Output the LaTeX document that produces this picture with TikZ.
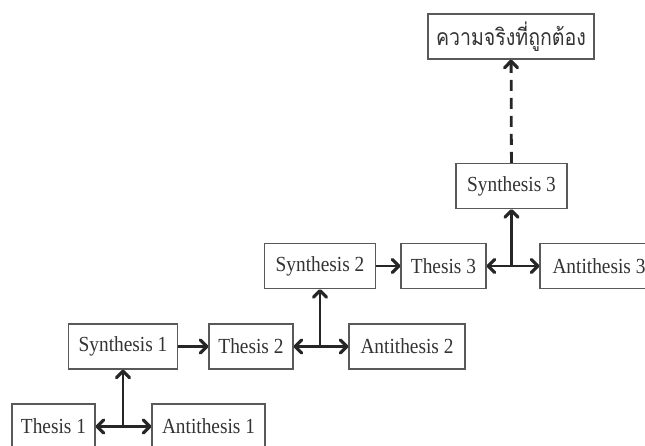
\documentclass[tikz,border=0pt]{standalone}
\usepackage{fontspec}
\setmainfont[FakeStretch=0.9]{Liberation Serif}
\newfontfamily\thaifont[Script=Thai,FakeStretch=0.85]{Loma}
\usetikzlibrary{arrows.meta}
\begin{document}
\begin{tikzpicture}[x=1pt,y=-1pt,
  box/.style={draw=black!65,line width=1.1pt,fill=white,minimum height=45pt,inner sep=2pt,text=black!80,font=\fontsize{21.5}{25}\selectfont},
  arr/.style={draw=black!85,line width=2.8pt,-{Straight Barb[length=6.5pt,width=13pt,line width=3.2pt,round]}},
  darr/.style={arr,dash pattern=on 11pt off 7pt}]
\useasboundingbox (0,0) rectangle (645,445);
\node[box,minimum width=83pt]  (t1) at (53.5,426.5) {Thesis 1};
\node[box,minimum width=113pt] (a1) at (208.5,426.5) {Antithesis 1};
\node[box,minimum width=109pt] (s1) at (123,346.5) {Synthesis 1};
\node[box,minimum width=84pt]  (t2) at (251,346.5) {Thesis 2};
\node[box,minimum width=116pt] (a2) at (407,346.5) {Antithesis 2};
\node[box,minimum width=111pt] (s2) at (320,266) {Synthesis 2};
\node[box,minimum width=85pt]  (t3) at (443.5,266) {Thesis 3};
\node[box,minimum width=118pt] (a3) at (599,266) {Antithesis 3};
\node[box,minimum width=111pt] (s3) at (511.5,186) {Synthesis 3};
\node[box,minimum width=166pt,font=\fontsize{23}{27}\thaifont] (top) at (511,36.5) {ความจริงที่ถูกต้อง};
\coordinate (j1) at (123,426.5);
\coordinate (j2) at (320,346.5);
\coordinate (j3) at (511.5,266);
\draw[arr] (j1) -- (t1);
\draw[arr] (j1) -- (a1);
\draw[arr] (j1) -- (s1);
\draw[arr] (s1) -- (t2);
\draw[arr] (j2) -- (t2);
\draw[arr] (j2) -- (a2);
\draw[arr] (j2) -- (s2);
\draw[arr] (s2) -- (t3);
\draw[arr] (j3) -- (t3);
\draw[arr] (j3) -- (a3);
\draw[arr] (j3) -- (s3);
\draw[darr] (s3) -- (top);
\end{tikzpicture}
\end{document}
